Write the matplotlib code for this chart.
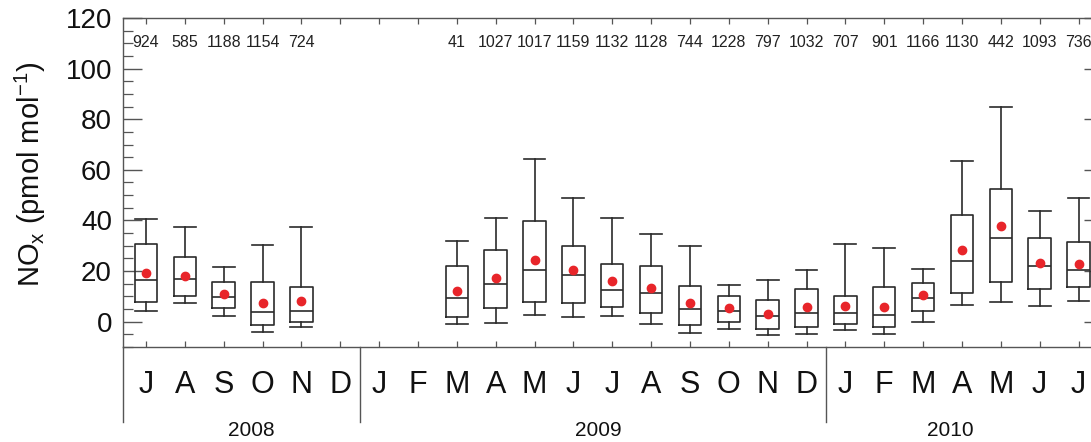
import matplotlib
matplotlib.use("Agg")
import matplotlib.pyplot as plt
import matplotlib.transforms as mtransforms
from matplotlib.ticker import MultipleLocator

# ---- data (Jul 2008 .. Jul 2010), None = no data ----
months = ["J", "A", "S", "O", "N", "D",
          "J", "F", "M", "A", "M", "J", "J", "A", "S", "O", "N", "D",
          "J", "F", "M", "A", "M", "J", "J"]
years = ["2008", "2009", "2010"]
counts = [924, 585, 1188, 1154, 724, None,
          None, None, 41, 1027, 1017, 1159, 1132, 1128, 744, 1228, 797, 1032,
          707, 901, 1166, 1130, 442, 1093, 736]
whisker_hi = [40.5, 37.5, 21.7, 30.2, 37.5, None,
              None, None, 31.9, 41.0, 64.3, 48.8, 40.9, 34.6, 29.8, 14.6, 16.4, 20.4,
              30.6, 29.0, 21.0, 63.5, 85.0, 43.8, 48.7]
q3 = [30.7, 25.7, 15.8, 15.8, 13.8, None,
      None, None, 21.9, 28.4, 39.6, 30.0, 22.9, 22.1, 14.3, 10.2, 8.6, 12.8,
      10.2, 13.8, 15.1, 42.1, 52.3, 33.1, 31.4]
median = [16.4, 16.7, 9.9, 3.9, 4.2, None,
          None, None, 9.5, 14.8, 20.3, 18.4, 12.4, 11.2, 5.2, 4.4, 2.3, 3.3,
          3.4, 2.6, 9.3, 23.9, 33.1, 21.9, 20.3]
mean = [19.1, 18.2, 10.8, 7.5, 8.3, None,
        None, None, 12.2, 17.1, 24.5, 20.4, 16.1, 13.4, 7.4, 5.3, 3.1, 6.0,
        6.1, 5.7, 10.4, 28.2, 37.8, 23.2, 22.9]
q1 = [7.8, 10.0, 5.5, -1.4, -0.1, None,
      None, None, 1.8, 5.6, 7.8, 7.5, 5.7, 3.4, -1.2, -0.1, -2.7, -2.0,
      -0.9, -2.2, 4.3, 11.3, 15.8, 12.9, 13.8]
whisker_lo = [4.4, 7.3, 2.1, -4.0, -2.2, None,
              None, None, -0.9, -0.5, 2.5, 2.0, 2.2, -0.8, -4.6, -2.7, -5.2, -4.8,
              -3.1, -4.8, -0.3, 6.6, 7.7, 6.3, 8.3]

# ---- figure ----
W, H = 1091, 442
fig = plt.figure(figsize=(W / 100, H / 100), dpi=100)
ax_left, ax_right, ax_top, ax_bot = 123, 1103, 18, 347
ax = fig.add_axes([ax_left / W, (H - ax_bot) / H,
                   (ax_right - ax_left) / W, (ax_bot - ax_top) / H])

font = "Liberation Sans"
box_col = "#2b2b2b"
spine_col = "#555555"

stats, pos = [], []
for i in range(len(months)):
    if median[i] is None:
        continue
    stats.append(dict(med=median[i], q1=q1[i], q3=q3[i],
                      whislo=whisker_lo[i], whishi=whisker_hi[i],
                      mean=mean[i], fliers=[]))
    pos.append(i)

lp = dict(color=box_col, linewidth=1.2)
ax.bxp(stats, positions=pos, widths=0.58, capwidths=0.56,
       showmeans=True, showfliers=False, manage_ticks=False,
       boxprops=lp, whiskerprops=lp, capprops=lp, medianprops=lp,
       meanprops=dict(marker="o", markersize=6, markerfacecolor="#e8252a",
                      markeredgecolor="#e8252a"))

ax.set_xlim(-0.59, 24.63)
ax.set_ylim(-10, 120)

# counts on top
for i, c in enumerate(counts):
    if c is not None:
        ax.text(i, 110.5, str(c), ha="center", va="center",
                fontsize=11.5, family=font, color="#222222")

# ticks
ax.set_xticks(range(len(months)))
ax.set_xticklabels([])
ax.tick_params(axis="x", which="major", direction="in", top=True, bottom=True,
               length=4.5, width=0.9, color=spine_col)
ax.yaxis.set_major_locator(MultipleLocator(20))
ax.yaxis.set_minor_locator(MultipleLocator(5))
ax.tick_params(axis="y", which="major", direction="in", left=True, right=True,
               length=14, width=1.0, color=spine_col, pad=8,
               labelsize=20, labelcolor="#111111")
ax.tick_params(axis="y", which="minor", direction="in", left=True, right=True,
               length=7, width=0.9, color=spine_col)
for lab in ax.get_yticklabels():
    lab.set_family(font)
for s in ax.spines.values():
    s.set_color(spine_col)
    s.set_linewidth(1.0)

# month and year labels below axis
trans = mtransforms.blended_transform_factory(ax.transData, ax.transAxes)
h_ax = ax_bot - ax_top
for i, m in enumerate(months):
    ax.text(i, (ax_bot - 385) / h_ax, m, transform=trans, ha="center",
            va="center", fontsize=22, family=font, color="#111111")
year_pos = [2.7, 11.65, 20.7]
for x, y in zip(year_pos, years):
    ax.text(x, (ax_bot - 431) / h_ax, y, transform=trans, ha="center",
            va="center", fontsize=15, family=font, color="#111111")

# separators
y_end = (ax_bot - 422) / h_ax
for x in [-0.59, 5.5, 17.5]:
    ax.plot([x, x], [0, y_end], transform=trans, color=spine_col,
            linewidth=1.0, clip_on=False)

# y label
fig.text(30 / W, (H - 174) / H, r"NO$_\mathregular{x}$ (pmol mol$^\mathregular{-1}$)",
         rotation=90, ha="center", va="center", fontsize=21, family=font,
         color="#111111")

fig.savefig("out.png", dpi=100)
